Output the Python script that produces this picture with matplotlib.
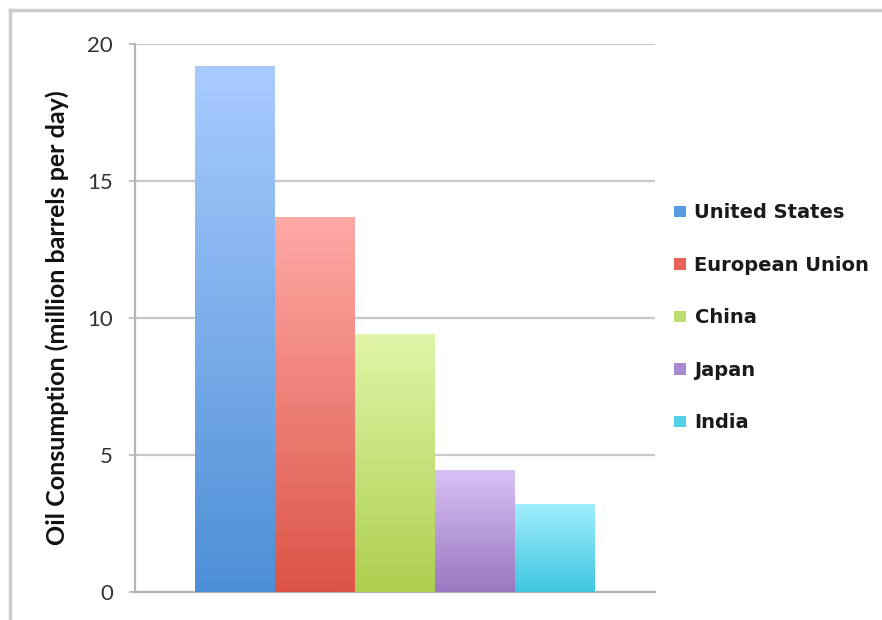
import numpy as np
import matplotlib
matplotlib.use("Agg")
import matplotlib.pyplot as plt
from matplotlib.colors import LinearSegmentedColormap
from matplotlib.patches import Patch
from matplotlib.lines import Line2D

countries = ["United States", "European Union", "China", "Japan", "India"]
values = [19.2, 13.7, 9.4, 4.45, 3.2]
yticks = [0, 5, 10, 15, 20]
ylabel = "Oil Consumption (million barrels per day)"

top_colors = ["#a9ccff", "#ffaaa5", "#e0f5a8", "#d8c2f4", "#a2eefd"]
bottom_colors = ["#4d8fd6", "#dc5447", "#aecf50", "#9a78c0", "#3fc6e0"]
legend_colors = ["#5b9be0", "#e5645a", "#bedd70", "#a98ad0", "#55d0ea"]

fig = plt.figure(figsize=(8.82, 6.2), dpi=100)
W, H = 882, 620
ax = fig.add_axes([135 / W, 1 - 592 / H, 520 / W, 548 / H])

x = np.arange(len(countries))
bars = ax.bar(x, values, width=1.0, color="none", edgecolor="none", zorder=3)
grad = np.linspace(1, 0, 256).reshape(-1, 1)
for b, ct, cb in zip(bars, top_colors, bottom_colors):
    cmap = LinearSegmentedColormap.from_list("g", [cb, ct])
    x0, y0 = b.get_x(), b.get_y()
    im = ax.imshow(grad, cmap=cmap, aspect="auto", origin="upper",
                   extent=(x0, x0 + b.get_width(), y0, y0 + b.get_height()),
                   zorder=3, interpolation="bilinear")
    im.set_clip_path(b)

ax.set_xlim(-1.25, 5.25)
ax.set_ylim(0, 20)
ax.set_yticks(yticks)
ax.set_yticklabels([str(t) for t in yticks], family="Lato", fontsize=16, color="#333333")
ax.set_xticks([])
ax.grid(axis="y", color="#c8c8c8", linewidth=1.6, zorder=0)
ax.set_axisbelow(True)
for s in ["top", "right"]:
    ax.spines[s].set_visible(False)
for s in ["left", "bottom"]:
    ax.spines[s].set_color("#b4b4b4")
    ax.spines[s].set_linewidth(1.6)
ax.tick_params(axis="y", length=4, width=1.2, color="#b4b4b4", pad=12, direction="out")
ax.set_ylabel(ylabel, family="Lato", fontweight="bold", fontsize=18, color="#111111")
ax.yaxis.set_label_coords((57 - 135) / 520, 0.5)
ax.yaxis.label.set_verticalalignment("center")

handles = [Patch(facecolor=c, edgecolor="none") for c in legend_colors]
leg = fig.legend(handles, countries, loc="upper left", bbox_to_anchor=(656 / W, 1 - 186 / H),
                 frameon=False, handlelength=0.62, handleheight=0.55, handletextpad=0.46,
                 labelspacing=1.72, prop={"family": "DejaVu Sans", "weight": "bold", "size": 14})
for t in leg.get_texts():
    t.set_color("#1a1a1a")

# outer frame (top and left)
fig.add_artist(Line2D([10 / W, 1], [1 - 10 / H, 1 - 10 / H], color="#cccccc", linewidth=2.5))
fig.add_artist(Line2D([10 / W, 10 / W], [0, 1 - 10 / H], color="#cccccc", linewidth=2.5))

fig.savefig("out.png", dpi=100, facecolor="white")
